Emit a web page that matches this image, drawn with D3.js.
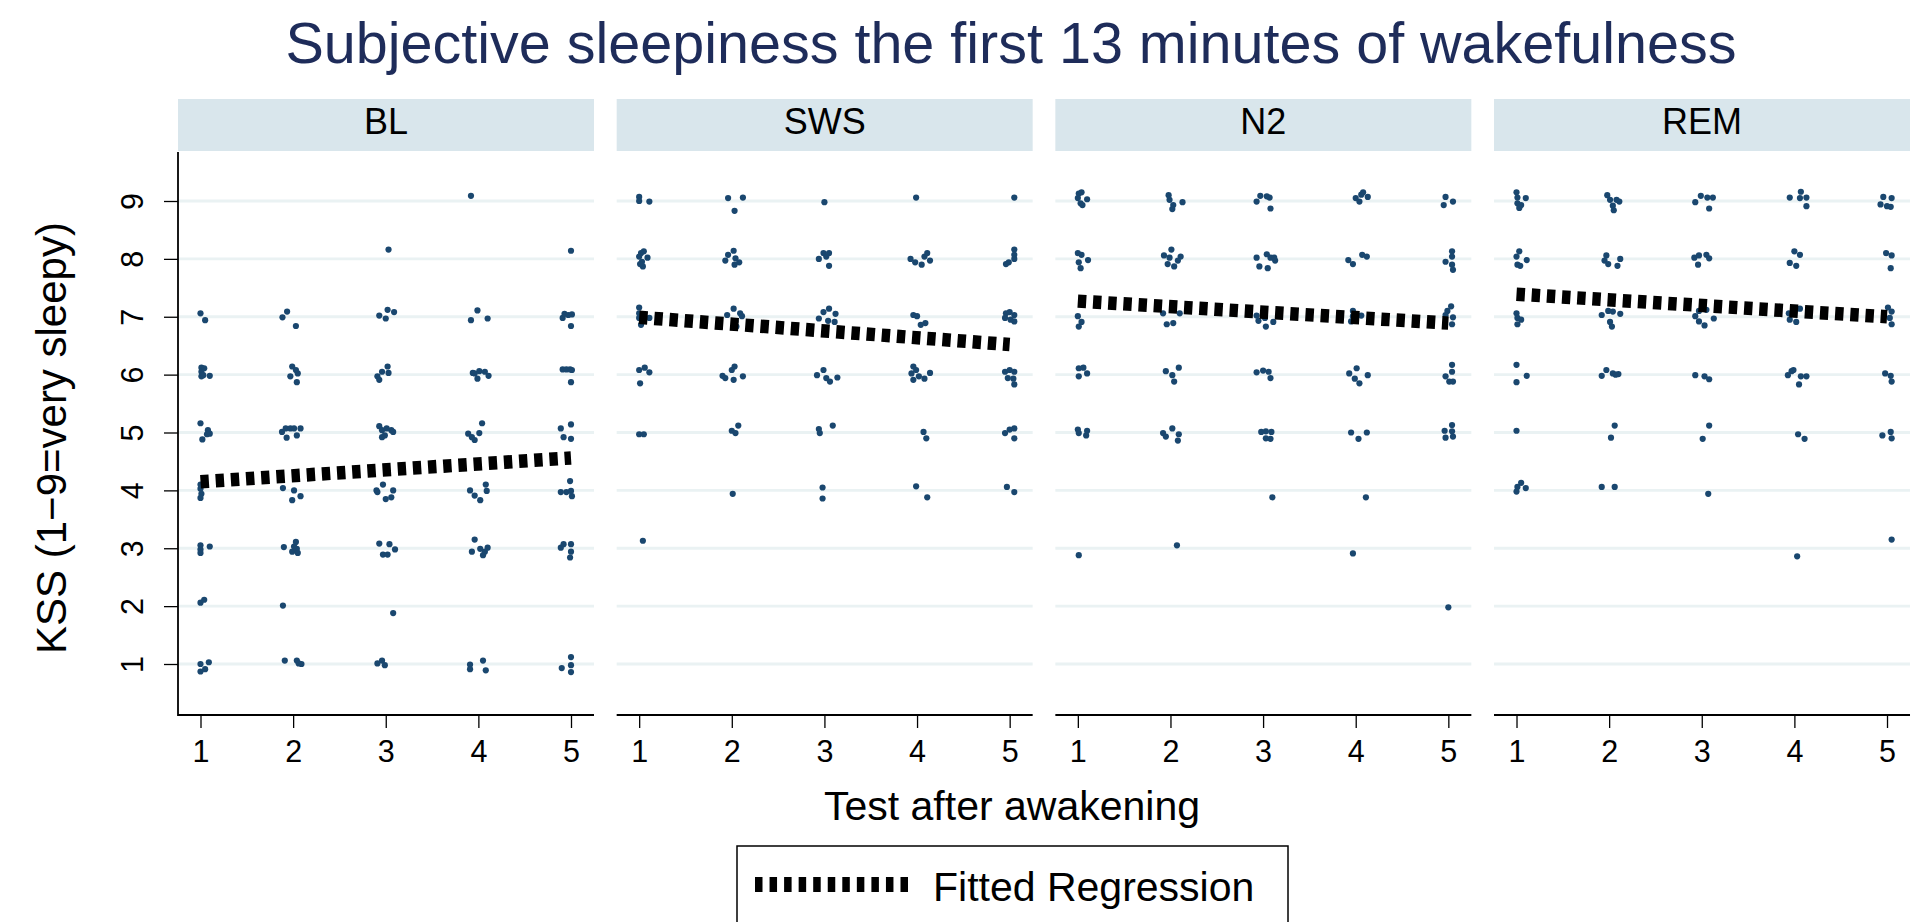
<!DOCTYPE html>
<html>
<head>
<meta charset="utf-8">
<script src="https://cdn.jsdelivr.net/npm/d3@7"></script>
<style>
  html, body { margin: 0; padding: 0; background: #fff; }
  svg { display: block; font-family: "Liberation Sans", Arial, Helvetica, sans-serif; }
</style>
</head>
<body>
<svg id="chart" width="1924" height="922"></svg>
<script>
// ---------- DATA ----------
const panels = ["BL", "SWS", "N2", "REM"];
const xTicks = [1, 2, 3, 4, 5];
const yTicks = [1, 2, 3, 4, 5, 6, 7, 8, 9];
const titleText = "Subjective sleepiness the first 13 minutes of wakefulness";
const xTitle = "Test after awakening";
const yTitle = "KSS (1\u22129=very sleepy)";
const legendLabel = "Fitted Regression";

// fitted regression values at test 1 and test 5, per panel
const fitStart = [4.15, 6.99, 7.27, 7.39];
const fitEnd   = [4.56, 6.52, 6.89, 7.00];

// jittered observations [test, KSS]
const blPoints = [
  [3.92,9.09],
  [3.03,8.16],[5.0,8.14],
  [1.0,7.06],[1.05,6.94],[1.885,6.99],[1.935,7.09],[2.03,6.84],[2.93,7.02],[3.0,6.97],[3.02,7.12],[3.09,7.08],[3.92,6.94],[3.99,7.11],[4.1,6.97],[4.91,6.98],[4.93,7.05],[4.97,7.03],[5.01,7.04],[5.0,6.84],
  [1.01,6.12],[1.01,6.05],[1.01,5.97],[1.04,6.11],[1.03,5.99],[1.1,5.98],[1.99,6.14],[1.97,5.97],[2.03,6.08],[2.05,6.02],[2.04,5.87],[2.91,5.97],[2.93,5.91],[2.96,6.05],[3.02,6.14],[3.03,6.03],[3.94,6.03],[3.96,6.02],[3.99,5.93],[4.01,6.06],[4.07,6.05],[4.11,5.98],[4.91,6.09],[4.95,6.09],[4.99,6.09],[5.01,6.08],[5.0,5.87],
  [1.0,5.16],[1.08,5.04],[1.1,4.98],[1.07,4.97],[1.02,4.88],[1.88,5.01],[1.92,5.07],[1.97,5.07],[2.01,5.07],[2.08,5.07],[1.93,4.91],[2.04,4.95],[2.93,5.11],[2.96,5.04],[3.06,5.04],[3.01,5.07],[3.08,5.01],[2.96,4.92],[2.99,4.95],[3.89,4.98],[3.96,4.87],[4.01,4.99],[4.04,5.16],[3.93,4.92],[4.89,5.07],[4.92,4.92],[5.0,5.14],[5.0,4.89],
  [1.0,4.1],[1.0,4.03],[1.01,3.94],[1.0,3.87],[1.89,4.04],[2.01,4.0],[2.08,3.9],[1.99,3.83],[2.9,4.0],[2.91,3.97],[2.97,4.1],[3.08,4.0],[3.06,3.88],[3.0,3.85],[3.91,4.0],[3.96,3.91],[4.02,3.83],[4.08,4.1],[4.09,3.99],[4.89,3.97],[4.95,3.97],[4.99,4.16],[5.0,3.99],[5.01,3.9],
  [1.0,3.05],[1.0,2.98],[1.0,2.92],[1.1,3.03],[1.9,3.02],[1.99,2.94],[2.03,3.11],[2.04,2.99],[2.05,2.92],[2.01,3.03],[2.93,3.08],[2.97,2.89],[3.02,2.89],[3.04,3.07],[3.1,2.98],[3.96,3.15],[3.93,2.94],[4.02,2.99],[4.05,2.88],[4.1,3.01],[4.07,2.94],[4.89,3.01],[4.92,3.07],[5.0,3.07],[5.0,2.94],[4.99,2.84],
  [1.0,2.06],[1.04,2.11],[1.89,2.01],[3.08,1.88],
  [1.0,1.0],[1.0,0.87],[1.05,0.91],[1.09,1.03],[1.91,1.06],[2.04,1.06],[2.06,1.01],[2.09,1.0],[2.91,1.01],[2.96,1.06],[2.99,0.98],[3.91,0.99],[3.91,0.91],[4.05,1.06],[4.08,0.89],[4.9,0.93],[5.0,1.12],[5.0,0.98],[5.0,0.86]
];
const swsPoints = [
  [1.0,9.07],[1.0,9.0],[1.11,8.99],[1.96,9.05],[2.12,9.06],[2.03,8.83],[3.0,8.98],[3.99,9.06],[5.05,9.06],
  [1.02,8.1],[1.05,8.13],[1.0,8.04],[1.09,8.02],[1.03,7.95],[1.04,7.87],[1.01,7.91],[2.02,8.14],[1.96,8.07],[1.93,7.97],[2.04,8.01],[2.08,7.94],[2.03,7.9],[2.94,8.0],[2.99,8.1],[3.05,8.1],[3.02,8.04],[3.05,7.88],[3.93,8.0],[3.98,7.94],[4.05,7.9],[4.08,8.04],[4.11,8.1],[4.14,7.97],[5.05,8.16],[5.05,8.07],[5.05,8.0],[4.99,7.94],[4.96,7.91],
  [1.0,7.16],[1.0,7.06],[1.0,6.98],[1.02,6.86],[1.11,6.98],[1.04,7.01],[2.02,7.14],[1.95,7.03],[2.09,7.06],[2.11,7.01],[2.04,6.92],[2.05,6.83],[3.05,7.14],[2.99,7.08],[3.12,7.05],[2.94,6.97],[3.04,6.93],[3.11,6.91],[3.96,7.03],[4.0,7.01],[4.04,6.86],[4.09,6.89],[4.96,7.06],[5.0,7.08],[5.05,7.03],[4.95,6.98],[5.05,6.92],[5.01,6.95],
  [1.0,6.08],[1.06,6.12],[1.11,6.04],[1.01,5.85],[2.03,6.14],[2.0,6.08],[1.9,5.98],[1.93,5.94],[2.02,5.91],[2.12,5.97],[2.92,5.99],[2.99,6.08],[3.02,5.94],[3.06,5.88],[3.14,5.95],[3.96,6.14],[3.94,6.02],[3.96,5.91],[4.02,5.97],[4.08,5.93],[4.14,6.03],[3.99,6.08],[4.95,6.05],[5.0,6.08],[5.05,6.05],[4.98,5.94],[5.04,5.93],[5.05,5.83],
  [1.0,4.97],[1.05,4.97],[2.07,5.12],[2.0,5.03],[2.04,4.99],[2.94,5.06],[2.95,4.99],[3.09,5.12],[4.07,5.01],[4.1,4.9],[4.95,4.99],[5.0,5.05],[5.05,5.07],[5.05,4.9],
  [2.01,3.94],[2.98,4.05],[2.98,3.86],[3.99,4.07],[4.11,3.88],[4.97,4.06],[5.05,3.97],
  [1.04,3.13]
];
const n2Points = [
  [1.01,9.13],[1.04,9.15],[1.0,9.05],[1.03,8.96],[1.1,9.03],[1.05,8.93],[1.98,9.1],[1.99,9.02],[2.03,8.93],[2.13,8.98],[2.02,8.86],[2.93,8.99],[2.97,9.09],[3.07,9.06],[3.08,8.87],[3.04,9.08],[4.0,9.05],[4.08,9.15],[4.04,8.99],[4.13,9.07],[4.06,9.11],[4.97,9.07],[5.05,8.99],[4.95,8.93],
  [1.0,8.1],[1.04,8.07],[1.11,7.98],[1.01,7.94],[1.03,7.84],[2.01,8.16],[1.93,8.06],[1.99,8.02],[2.11,8.04],[1.97,7.91],[2.04,7.87],[2.08,7.97],[2.93,8.02],[3.04,8.08],[3.08,8.02],[3.13,7.97],[2.96,7.87],[3.05,7.84],[3.12,8.02],[3.92,7.98],[3.97,7.91],[4.07,8.07],[4.12,8.04],[5.04,8.13],[5.04,8.04],[4.97,7.95],[5.04,7.9],[5.05,7.81],
  [1.0,7.01],[1.04,6.91],[1.01,6.83],[1.92,7.06],[2.02,7.15],[2.1,7.06],[1.96,6.87],[2.03,6.89],[2.93,7.02],[2.95,6.93],[3.03,6.83],[3.11,6.91],[3.02,6.98],[3.97,7.1],[3.97,7.01],[3.95,6.92],[4.06,7.02],[5.03,7.18],[4.99,7.1],[5.05,6.99],[5.04,6.87],[4.97,7.03],
  [1.01,6.11],[1.06,6.12],[1.1,6.02],[1.01,5.97],[1.95,6.06],[2.09,6.12],[2.02,5.99],[2.04,5.88],[2.93,6.04],[3.0,6.07],[3.06,6.05],[3.08,5.94],[4.01,6.11],[3.93,6.02],[3.99,5.93],[4.04,5.85],[4.13,5.99],[5.04,6.17],[5.04,6.05],[4.97,5.97],[5.01,5.88],[5.05,5.88],
  [1.0,5.05],[1.01,4.99],[1.1,5.03],[1.09,4.95],[1.92,4.99],[2.02,5.07],[2.09,4.97],[1.95,4.93],[2.08,4.86],[2.98,5.01],[3.03,5.02],[3.09,5.01],[3.03,4.9],[3.08,4.89],[3.95,5.0],[4.03,4.89],[4.12,5.0],[5.04,5.13],[4.96,5.03],[5.04,5.02],[4.97,4.91],[5.05,4.93],
  [3.1,3.88],[4.11,3.88],
  [1.01,2.88],[2.07,3.05],[3.97,2.91],
  [5.0,1.98]
];
const remPoints = [
  [1.0,9.15],[1.01,9.06],[1.1,9.05],[1.01,8.96],[1.03,8.88],[1.05,8.93],[1.98,9.1],[2.01,9.02],[2.11,8.99],[2.04,8.92],[2.05,8.84],[2.08,9.02],[2.93,8.98],[2.99,9.09],[3.06,9.06],[3.12,9.06],[3.08,8.87],[3.95,9.06],[4.07,9.16],[4.06,9.05],[4.13,9.06],[4.13,8.91],[4.96,9.07],[5.05,9.05],[4.93,8.94],[5.0,8.91],[5.04,8.9],
  [1.03,8.13],[1.0,8.04],[1.11,7.98],[1.01,7.9],[1.04,7.88],[1.97,8.06],[1.95,7.97],[1.99,7.91],[2.12,8.0],[2.09,7.88],[2.92,8.02],[2.97,8.06],[3.05,8.07],[3.08,8.01],[2.96,7.9],[4.0,8.13],[4.06,8.07],[3.95,7.93],[4.02,7.88],[4.99,8.1],[5.05,8.06],[5.04,7.84],
  [1.0,7.06],[1.01,6.98],[1.05,6.95],[1.01,6.87],[1.92,7.03],[1.99,7.1],[2.04,7.09],[2.12,7.05],[2.01,6.91],[2.03,6.83],[2.93,7.01],[2.97,7.1],[3.05,7.12],[3.13,6.97],[2.97,6.92],[3.03,6.85],[3.95,6.95],[4.02,6.91],[4.06,7.14],[3.94,7.06],[5.01,7.16],[5.05,7.09],[5.05,6.87],[5.03,6.98],
  [1.0,6.17],[1.11,5.98],[1.0,5.87],[1.92,5.98],[1.97,6.08],[2.04,6.02],[2.1,6.01],[2.07,6.0],[2.93,5.99],[3.03,5.97],[3.08,5.92],[3.97,6.06],[3.93,5.99],[3.99,6.08],[4.07,5.97],[4.13,5.97],[4.05,5.83],[4.98,6.02],[5.04,5.98],[5.05,5.88],
  [1.0,5.03],[2.06,5.12],[2.02,4.91],[3.08,5.12],[3.01,4.89],[4.04,4.97],[4.11,4.89],[4.95,4.95],[5.04,5.01],[5.05,4.9],
  [1.0,3.98],[1.05,4.13],[1.1,4.04],[1.01,4.06],[1.92,4.06],[2.06,4.06],[3.07,3.94],
  [4.03,2.86],[5.05,3.15]
];
const panelPoints = [blPoints, swsPoints, n2Points, remPoints];

// ---------- LAYOUT ----------
const svg = d3.select("#chart");
const navy = "#1a476f";
const plotTop = 152, plotBottom = 715;
const panelWidth = 416, panelStep = 438.67, firstLeft = 178;
const stripTop = 99, stripH = 52;

const y = d3.scaleLinear().domain([1, 9]).range([664, 201]);
const panelLeft = d3.scaleLinear().domain([0, 1]).range([firstLeft, firstLeft + panelStep]);

// title
svg.append("text")
  .attr("x", 1011).attr("y", 63)
  .attr("text-anchor", "middle")
  .attr("font-size", 57.5)
  .attr("fill", "#1e2c5a")
  .text(titleText);

panels.forEach((name, i) => {
  const left = panelLeft(i);
  const x = d3.scaleLinear().domain([1, 5]).range([left + 22.5, left + panelWidth - 23]);
  const g = svg.append("g");

  // strip
  g.append("rect")
    .attr("x", left).attr("y", stripTop)
    .attr("width", panelWidth).attr("height", stripH)
    .attr("fill", "#d9e6ec");
  g.append("text")
    .attr("x", left + panelWidth / 2).attr("y", 134)
    .attr("text-anchor", "middle")
    .attr("font-size", 36)
    .attr("fill", "#000")
    .text(name);

  // gridlines
  g.selectAll(".grid").data(yTicks).enter().append("line")
    .attr("x1", left).attr("x2", left + panelWidth)
    .attr("y1", d => y(d)).attr("y2", d => y(d))
    .attr("stroke", "#eaf2f3").attr("stroke-width", 2.8);

  // points
  g.selectAll(".pt").data(panelPoints[i]).enter().append("circle")
    .attr("cx", d => x(d[0])).attr("cy", d => y(d[1]))
    .attr("r", 3.1).attr("fill", navy);

  // fitted regression
  g.append("line")
    .attr("x1", x(1)).attr("y1", y(fitStart[i]))
    .attr("x2", x(5)).attr("y2", y(fitEnd[i]))
    .attr("stroke", "#000").attr("stroke-width", 13.5)
    .attr("stroke-dasharray", "8.4,6.8");

  // x axis
  const xa = g.append("g")
    .attr("transform", `translate(0,${plotBottom})`)
    .call(d3.axisBottom(x).tickValues(xTicks).tickSize(13).tickPadding(12).tickFormat(d3.format("d")));
  xa.select(".domain").remove();
  xa.selectAll(".tick line").attr("stroke", "#000").attr("stroke-width", 1.3);
  xa.selectAll(".tick text").attr("font-size", 30.5).attr("fill", "#000")
    .attr("font-family", "'Liberation Sans', Arial, Helvetica, sans-serif");
  g.append("line")
    .attr("x1", left).attr("x2", left + panelWidth)
    .attr("y1", plotBottom).attr("y2", plotBottom)
    .attr("stroke", "#000").attr("stroke-width", 2);
});

// y axis (first panel only)
const ya = svg.append("g")
  .attr("transform", `translate(${firstLeft},0)`)
  .call(d3.axisLeft(y).tickValues(yTicks).tickSize(14).tickFormat(d3.format("d")));
ya.select(".domain").remove();
ya.selectAll(".tick line").attr("stroke", "#000").attr("stroke-width", 1.3);
ya.selectAll(".tick text")
  .attr("x", null).attr("dy", null)
  .attr("text-anchor", "middle")
  .attr("transform", "translate(-35,0) rotate(-90)")
  .attr("font-size", 30.5).attr("fill", "#000")
  .attr("font-family", "'Liberation Sans', Arial, Helvetica, sans-serif");
svg.append("line")
  .attr("x1", firstLeft).attr("x2", firstLeft)
  .attr("y1", plotTop).attr("y2", plotBottom + 1)
  .attr("stroke", "#000").attr("stroke-width", 1.8);

// axis titles
svg.append("text")
  .attr("transform", "translate(66,438) rotate(-90)")
  .attr("text-anchor", "middle")
  .attr("font-size", 42)
  .attr("fill", "#000")
  .text(yTitle);
svg.append("text")
  .attr("x", 1012).attr("y", 820)
  .attr("text-anchor", "middle")
  .attr("font-size", 41)
  .attr("fill", "#000")
  .text(xTitle);

// legend
svg.append("rect")
  .attr("x", 737).attr("y", 846)
  .attr("width", 551).attr("height", 110)
  .attr("fill", "#fff").attr("stroke", "#000").attr("stroke-width", 1.5);
svg.append("line")
  .attr("x1", 755).attr("x2", 908)
  .attr("y1", 884.5).attr("y2", 884.5)
  .attr("stroke", "#000").attr("stroke-width", 15)
  .attr("stroke-dasharray", "7.5,7.05");
svg.append("text")
  .attr("x", 933).attr("y", 901)
  .attr("font-size", 41)
  .attr("fill", "#000")
  .text(legendLabel);
</script>
</body>
</html>
